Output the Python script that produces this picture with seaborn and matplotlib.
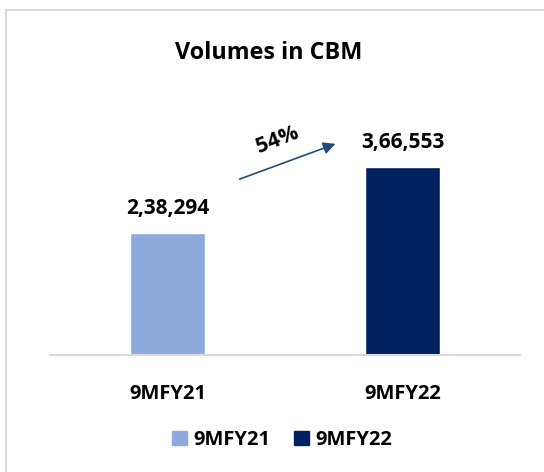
import matplotlib
matplotlib.use("Agg")
import matplotlib.pyplot as plt
import seaborn as sns
import pandas as pd
from matplotlib.patches import Rectangle

periods = ["9MFY21", "9MFY22"]
volumes = [238294, 366553]
value_labels = ["2,38,294", "3,66,553"]
growth_label = "54%"
title = "Volumes in CBM"
colors = ["#8EA9DB", "#002060"]

sns.set_theme(style="white")
plt.rcParams['font.family'] = ['Open Sans', 'DejaVu Sans']
plt.rcParams['text.color'] = 'black'
plt.rcParams['xtick.color'] = 'black'

df = pd.DataFrame({"period": periods, "volume": volumes})

fig = plt.figure(figsize=(5.44, 4.72), dpi=100)
fig.patches.append(Rectangle((6/544, -0.1), 2.0, (462)/472 + 0.1, transform=fig.transFigure,
                             fill=False, edgecolor="#D9D9D9", linewidth=1.5, zorder=0))
ax = fig.add_axes([50/544, 117/472, 470/544, 295/472])

sns.barplot(data=df, x="period", y="volume", hue="period", palette=colors,
            width=0.32, ax=ax, legend=False, saturation=1)

ax.set_xlim(-0.5, 1.5)
ax.set_ylim(0, 575000)
ax.set_yticks([])
ax.set_ylabel("")
ax.set_xlabel("")
for s in ["top", "left", "right"]:
    ax.spines[s].set_visible(False)
ax.spines["bottom"].set_color("#D9D9D9")
ax.spines["bottom"].set_linewidth(1.5)
ax.tick_params(axis="x", length=0, pad=21, colors="black")
for lbl in ax.get_xticklabels():
    lbl.set_fontweight("bold")
    lbl.set_fontsize(14.5)
    lbl.set_color("black")

for i, (v, t) in enumerate(zip(volumes, value_labels)):
    ax.annotate(t, (i, v), xytext=(0, 17.5), textcoords="offset points",
                ha="center", va="center", fontsize=15, fontweight="bold", color="black")

fig.text(0.5 * (175 + 362) / 544, 1 - 53 / 472, title, ha="center", va="center",
         fontsize=16.8, fontweight="bold", color="black")

ax.annotate("", xy=(0.613, 0.719), xytext=(0.398, 0.593), xycoords="axes fraction",
            arrowprops=dict(arrowstyle="-|>", color="#1F4E79", lw=1.2, mutation_scale=18))
ax.text(0.483, 0.729, growth_label, transform=ax.transAxes, rotation=21, ha="center",
        va="center", fontsize=15.5, fontweight="bold", color="black")

handles = [Rectangle((0, 0), 1, 1, color=c) for c in colors]
leg = fig.legend(handles, periods, loc="center", bbox_to_anchor=(282/544, 1 - 440/472), ncol=2,
                 frameon=False, prop={"weight": "bold", "size": 14.5}, handlelength=0.75,
                 handleheight=0.75, handletextpad=0.3, columnspacing=1.2)
for t in leg.get_texts():
    t.set_color("black")

fig.savefig("out.png", dpi=100)
